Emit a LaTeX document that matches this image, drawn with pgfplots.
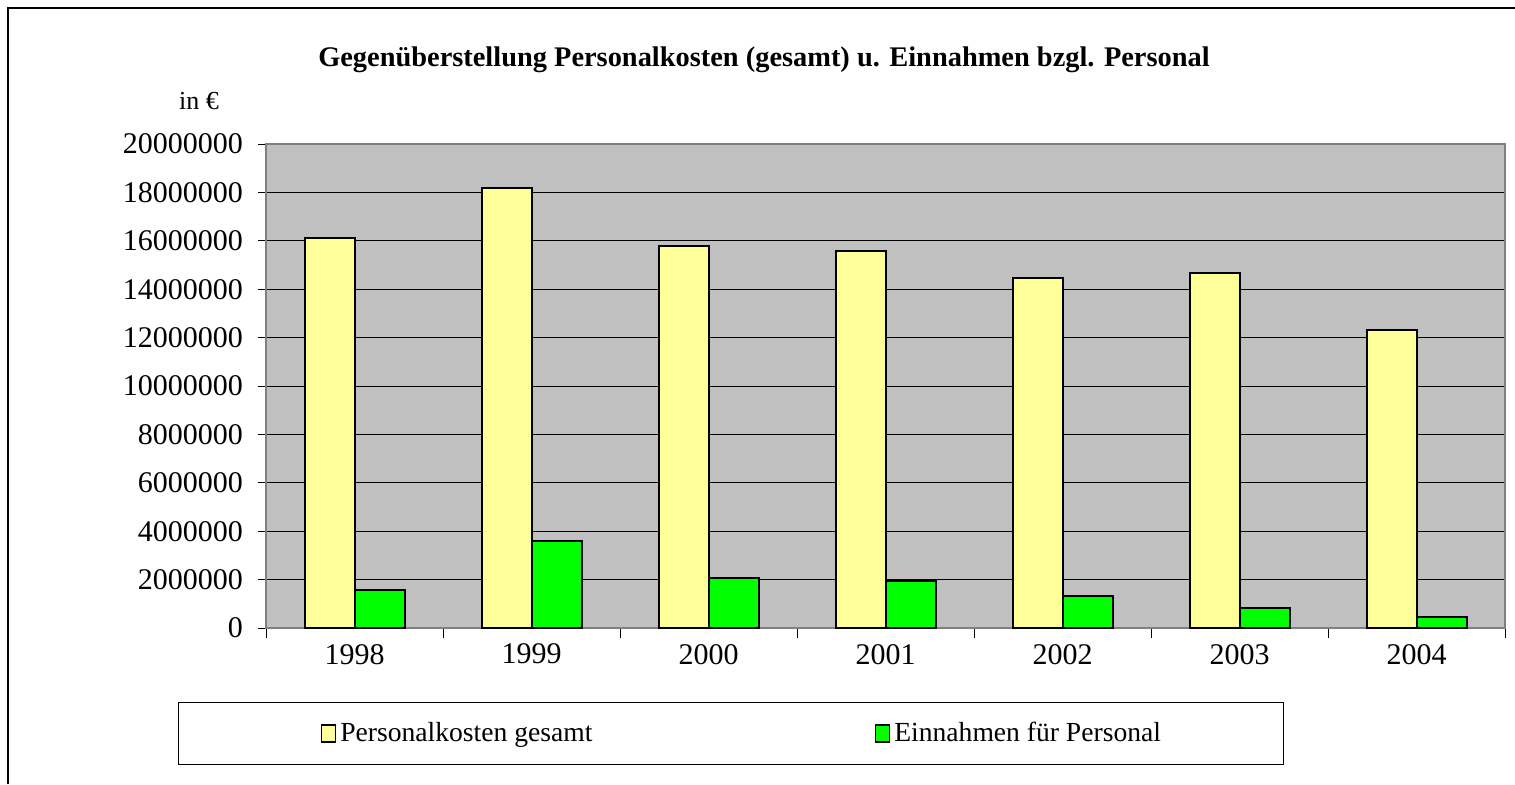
\documentclass[border=0pt]{standalone}
\usepackage{pgfplots}
\pgfplotsset{compat=1.18}
\usepackage{fontspec}
\setmainfont{Liberation Serif}
\definecolor{barY}{HTML}{FFFF99}
\definecolor{barG}{HTML}{00FF00}
\definecolor{bgGray}{HTML}{C0C0C0}
\definecolor{bordGray}{HTML}{808080}
\begin{document}
\begin{tikzpicture}
\useasboundingbox (0,0) rectangle (757.5pt,392pt);
\draw[black,line width=0.8pt] (4pt,0pt) -- (4pt,388pt) -- (757.5pt,388pt);
\node[font=\bfseries\fontsize{14.2pt}{16pt}\selectfont] at (382pt,362pt) {Gegenüberstellung Personalkosten (gesamt) u. Einnahmen bzgl. Personal};
\node[font=\fontsize{13pt}{15pt}\selectfont] at (99.5pt,341.5pt) {in €};
\begin{axis}[
  at={(133pt,78pt)}, anchor=south west,
  scale only axis, width=619.5pt, height=242pt,
  ybar=0pt, bar width=25pt,
  xmin=-0.5, xmax=6.5, ymin=0, ymax=20000000,
  axis background/.style={fill=bgGray},
  axis line style={draw=bordGray, line width=1pt},
  ymajorgrids, grid style={black, line width=0.5pt},
  xtick={0,1,2,3,4,5,6},
  xticklabels={1998,1999,2000,2001,2002,2003,2004},
  major x tick style={draw=none},
  minor xtick={-0.5,0.5,1.5,2.5,3.5,4.5,5.5,6.5},
  minor x tick style={black, line width=0.5pt},
  minor tick length=5pt,
  ytick={0,2000000,4000000,6000000,8000000,10000000,12000000,14000000,16000000,18000000,20000000},
  yticklabels={0,2000000,4000000,6000000,8000000,10000000,12000000,14000000,16000000,18000000,20000000},
  scaled y ticks=false,
  y tick style={black, line width=0.5pt},
  major tick length=4pt,
  tick align=outside,
  xtick pos=lower, ytick pos=left,
  ticklabel style={font=\fontsize{15pt}{17pt}\selectfont},
  yticklabel style={xshift=-4pt},
  xticklabel style={yshift=-0.5pt},
  legend columns=2,
  legend style={at={(-0.071,-0.153)}, anchor=north west, draw=black, line width=0.5pt,
    font=\fontsize{13.8pt}{16pt}\selectfont, inner xsep=59pt, inner ysep=8pt,
    /tikz/every even column/.append style={column sep=127pt}},
  legend image code/.code={\path (-12pt,0pt); \draw[#1,line width=0.8pt] (0pt,-4pt) rectangle (7pt,4.5pt);},
]
\addplot[fill=barY, draw=black, line width=1pt] coordinates {(0,16120000) (1,18180000) (2,15790000) (3,15580000) (4,14460000) (5,14670000) (6,12310000)};
\addplot[fill=barG, draw=black, line width=1pt] coordinates {(0,1570000) (1,3600000) (2,2070000) (3,1940000) (4,1320000) (5,830000) (6,450000)};
\legend{Personalkosten gesamt, Einnahmen für Personal}
\end{axis}
\end{tikzpicture}
\end{document}
